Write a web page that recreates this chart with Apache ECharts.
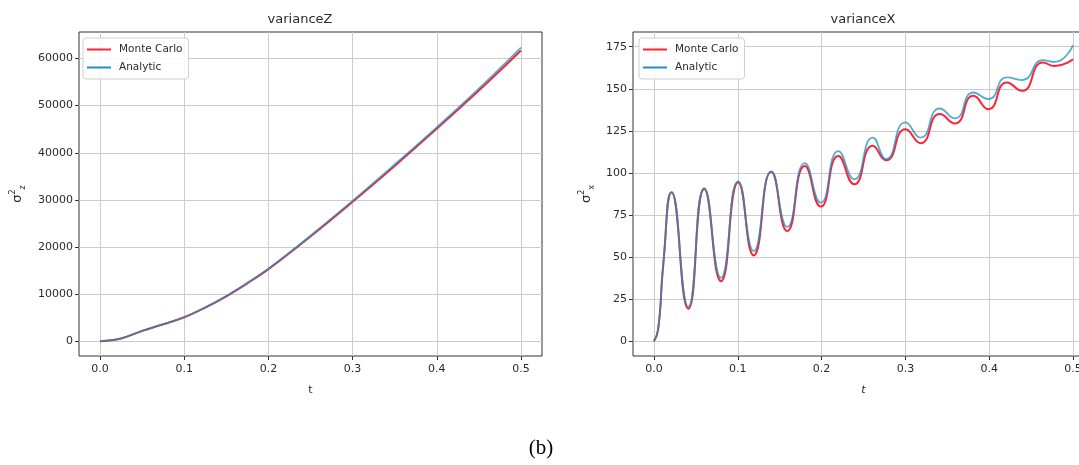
<!DOCTYPE html>
<html><head><meta charset="utf-8">
<script src="https://cdn.jsdelivr.net/npm/echarts@6/dist/echarts.min.js"></script>
<style>html,body{margin:0;padding:0;background:#fff}#c{width:1079px;height:465px}</style>
</head><body><div id="c"></div>
<script>
// ---- data: varianceZ ----
const tZ = [0, 0.025, 0.05, 0.075, 0.1, 0.125, 0.15, 0.175, 0.2, 0.25, 0.3, 0.35, 0.4, 0.45, 0.5];
const zAnalytic   = [0, 600, 2200, 3600, 5100, 7200, 9600, 12400, 15400, 22400, 29800, 37500, 45400, 53600, 62300];
const zMonteCarlo = [0, 600, 2200, 3600, 5100, 7150, 9550, 12300, 15300, 22250, 29600, 37200, 45100, 53200, 61700];
// ---- data: varianceX ----
const tX = [0, 0.005, 0.011, 0.021, 0.041, 0.060, 0.080, 0.1005, 0.119, 0.140, 0.159, 0.180, 0.199, 0.220, 0.239, 0.261, 0.277, 0.300, 0.318, 0.341, 0.359, 0.381, 0.399, 0.421, 0.439, 0.464, 0.478, 0.500];
const xAnalytic   = [0, 7, 45, 88.5, 20.5, 91, 37.7, 95, 53.6, 100.6, 68, 105.8, 82.4, 113, 96.2, 121, 108.2, 130, 121, 138.3, 132.4, 147.8, 143.9, 156.8, 155.2, 167, 166, 176];
const xMonteCarlo = [0, 7, 45, 88.5, 19.3, 90.5, 35.7, 94.5, 51, 100.8, 65.5, 104.2, 80, 110.1, 93.3, 116.1, 107.5, 126, 117.7, 135, 129.4, 145.8, 137.9, 153.8, 148.8, 165.7, 163.5, 167.5];
// ---- tick labels ----
const tTicks = [0, 0.1, 0.2, 0.3, 0.4, 0.5];
const zTicks = [0, 10000, 20000, 30000, 40000, 50000, 60000];
const xTicks = [0, 25, 50, 75, 100, 125, 150, 175];
const seriesNames = ['Monte Carlo', 'Analytic'];
const titles = ['varianceZ', 'varianceX'];
const caption = '(b)';

const FONT = 'DejaVu Sans';
const TXT = '#2b2b2b';
const RED = '#ff2238';
const BLUE = '#1f8fbf';

function pairs(t, v) { return t.map((x, i) => [x, v[i]]); }

function tAxis(gi) {
  return {
    type: 'value', gridIndex: gi, min: -0.025, max: 0.525,
    name: 't', nameLocation: 'middle', nameGap: 29,
    nameTextStyle: { fontFamily: FONT, fontSize: 11, color: TXT, fontStyle: gi === 1 ? 'italic' : 'normal' },
    axisLine: { show: false, onZero: false },
    axisTick: { show: true, length: 4, customValues: tTicks, lineStyle: { color: '#333' } },
    axisLabel: { customValues: tTicks, margin: 8, fontFamily: FONT, fontSize: 11, color: TXT,
      formatter: v => v.toFixed(1) },
    splitLine: { show: true, lineStyle: { color: '#cccccc', width: 1 } }
  };
}
function vAxis(gi, min, max, ticks, nameStr, gap) {
  return {
    type: 'value', gridIndex: gi, min, max,
    name: nameStr, nameLocation: 'middle', nameGap: gap, nameRotate: 90,
    nameTextStyle: { fontFamily: FONT, fontSize: 13, color: TXT,
      rich: {
        s: { fontFamily: FONT, fontSize: 13, color: TXT, lineHeight: 18 },
        p: { fontFamily: FONT, fontSize: 8, color: TXT, verticalAlign: 'top', lineHeight: 18 },
        b: { fontFamily: FONT, fontSize: 8, color: TXT, verticalAlign: 'bottom', lineHeight: 18 }
      } },
    axisLine: { show: false, onZero: false },
    axisTick: { show: true, length: 4, customValues: ticks, lineStyle: { color: '#333' } },
    axisLabel: { customValues: ticks, margin: 6, fontFamily: FONT, fontSize: 11, color: TXT,
      formatter: v => String(v) },
    splitLine: { show: true, lineStyle: { color: '#cccccc', width: 1 } }
  };
}
function legend(left) {
  return {
    left, top: 38, orient: 'vertical', data: seriesNames,
    icon: 'rect', itemWidth: 24, itemHeight: 2, itemGap: 7,
    padding: [6, 6, 6, 4],
    backgroundColor: 'rgba(255,255,255,0.85)', borderColor: '#cfcfcf', borderWidth: 1, borderRadius: 3,
    textStyle: { fontFamily: FONT, fontSize: 10.5, color: TXT, padding: [0, 0, 0, 3] }
  };
}

const chart = echarts.init(document.getElementById('c'), null, { renderer: 'canvas' });
chart.setOption({
  backgroundColor: '#fff',
  animation: false,
  color: [RED, BLUE],
  grid: [
    { left: 79, top: 32, width: 463, height: 324, show: true, borderColor: '#333', borderWidth: 1, containLabel: false, outerBoundsMode: 'none' },
    { left: 633, top: 32, width: 461, height: 324, show: true, borderColor: '#333', borderWidth: 1, containLabel: false, outerBoundsMode: 'none' }
  ],
  xAxis: [tAxis(0), tAxis(1)],
  yAxis: [
    vAxis(0, -3125, 65625, zTicks, '{s|σ}{p|2}{b|z}', 52),
    vAxis(1, -8.75, 183.75, xTicks, '{s|σ}{p|2}{b|x}', 37)
  ],
  legend: [legend(83), legend(639)],
  graphic: [
    { type: 'text', x: 300, y: 20, style: { text: titles[0], font: '13px "DejaVu Sans"', fill: TXT, textAlign: 'center', textVerticalAlign: 'middle' } },
    { type: 'text', x: 863, y: 20, style: { text: titles[1], font: '13px "DejaVu Sans"', fill: TXT, textAlign: 'center', textVerticalAlign: 'middle' } },
    { type: 'text', x: 541, y: 448, style: { text: caption, font: '21px "Liberation Serif"', fill: '#000', textAlign: 'center', textVerticalAlign: 'middle' } }
  ],
  series: [
    { name: seriesNames[0], type: 'line', xAxisIndex: 0, yAxisIndex: 0, data: pairs(tZ, zMonteCarlo),
      showSymbol: false, symbol: 'none', smooth: 0.4, lineStyle: { color: RED, width: 2 }, itemStyle: { color: RED } },
    { name: seriesNames[1], type: 'line', xAxisIndex: 0, yAxisIndex: 0, data: pairs(tZ, zAnalytic),
      showSymbol: false, symbol: 'none', smooth: 0.4, lineStyle: { color: BLUE, width: 1.8, opacity: 0.75 }, itemStyle: { color: BLUE } },
    { name: seriesNames[0], type: 'line', xAxisIndex: 1, yAxisIndex: 1, data: pairs(tX, xMonteCarlo),
      showSymbol: false, symbol: 'none', smooth: 0.55, lineStyle: { color: RED, width: 2 }, itemStyle: { color: RED } },
    { name: seriesNames[1], type: 'line', xAxisIndex: 1, yAxisIndex: 1, data: pairs(tX, xAnalytic),
      showSymbol: false, symbol: 'none', smooth: 0.55, lineStyle: { color: BLUE, width: 1.8, opacity: 0.75 }, itemStyle: { color: BLUE } }
  ]
});
</script>
</body></html>
